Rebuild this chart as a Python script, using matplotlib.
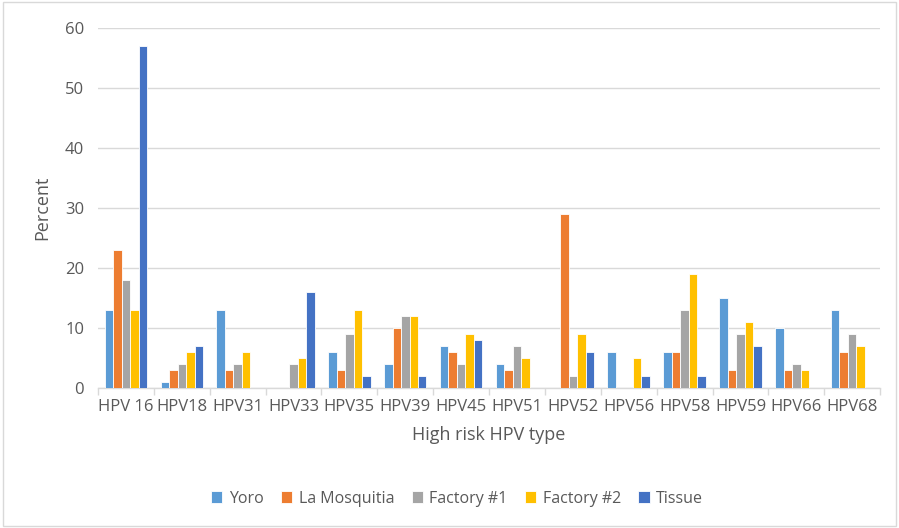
import matplotlib
matplotlib.use("Agg")
import matplotlib.pyplot as plt
import numpy as np

categories = ["HPV 16", "HPV18", "HPV31", "HPV33", "HPV35", "HPV39", "HPV45",
              "HPV51", "HPV52", "HPV56", "HPV58", "HPV59", "HPV66", "HPV68"]
yoro = [13, 1, 13, 0, 6, 4, 7, 4, 0, 6, 6, 15, 10, 13]
la_mosquitia = [23, 3, 3, 0, 3, 10, 6, 3, 29, 0, 6, 3, 3, 6]
factory1 = [18, 4, 4, 4, 9, 12, 4, 7, 2, 0, 13, 9, 4, 9]
factory2 = [13, 6, 6, 5, 13, 12, 9, 5, 9, 5, 19, 11, 3, 7]
tissue = [57, 7, 0, 16, 2, 2, 8, 0, 6, 2, 2, 7, 0, 0]

series_names = ["Yoro", "La Mosquitia", "Factory #1", "Factory #2", "Tissue"]
series = [yoro, la_mosquitia, factory1, factory2, tissue]
colors = ["#5B9BD5", "#ED7D31", "#A5A5A5", "#FFC000", "#4472C4"]

plt.rcParams['font.family'] = ['Open Sans', 'DejaVu Sans']

fig = plt.figure(figsize=(8.99, 5.28), dpi=100)
ax = fig.add_axes([0.109, 0.265, 0.870, 0.682])

x = np.arange(len(categories))
bw = 0.152
for i, (name, vals, c) in enumerate(zip(series_names, series, colors)):
    ax.bar(x + (i - 2) * bw, vals, width=bw, color=c, edgecolor="white",
           linewidth=0.6, label=name, zorder=3)

ax.set_xlim(-0.5, len(categories) - 0.5)
ax.set_ylim(0, 60)
ax.set_yticks(range(0, 61, 10))
ax.yaxis.grid(True, color="#D9D9D9", linewidth=1.0, zorder=0)
ax.set_axisbelow(True)
for s in ["top", "right", "left"]:
    ax.spines[s].set_visible(False)
ax.spines["bottom"].set_color("#D9D9D9")
ax.spines["bottom"].set_linewidth(1.0)

ax.set_xticks(x)
ax.set_xticklabels(categories)
ax.set_xticks(np.arange(-0.5, len(categories), 1.0), minor=True)
ax.tick_params(axis="x", which="major", length=0, pad=8, labelsize=12, labelcolor="#595959")
ax.tick_params(axis="x", which="minor", length=5, color="#D9D9D9", width=1.0)
ax.tick_params(axis="y", length=0, pad=10, labelsize=12, labelcolor="#595959")

ax.set_ylabel("Percent", fontsize=13, color="#595959", labelpad=10)
ax.set_xlabel("High risk HPV type", fontsize=13, color="#595959", labelpad=8)

leg = ax.legend(loc="center", bbox_to_anchor=(0.459, -0.307), ncol=5, frameon=False,
                fontsize=11.5, handlelength=0.7, handleheight=0.7, handletextpad=0.4,
                columnspacing=1.1, labelcolor="#595959")

border = plt.Rectangle((0.003, 0.003), 0.994, 0.994, transform=fig.transFigure,
                       fill=False, edgecolor="#D9D9D9", linewidth=1.0)
fig.patches.append(border)

fig.savefig("out.png", dpi=100)
